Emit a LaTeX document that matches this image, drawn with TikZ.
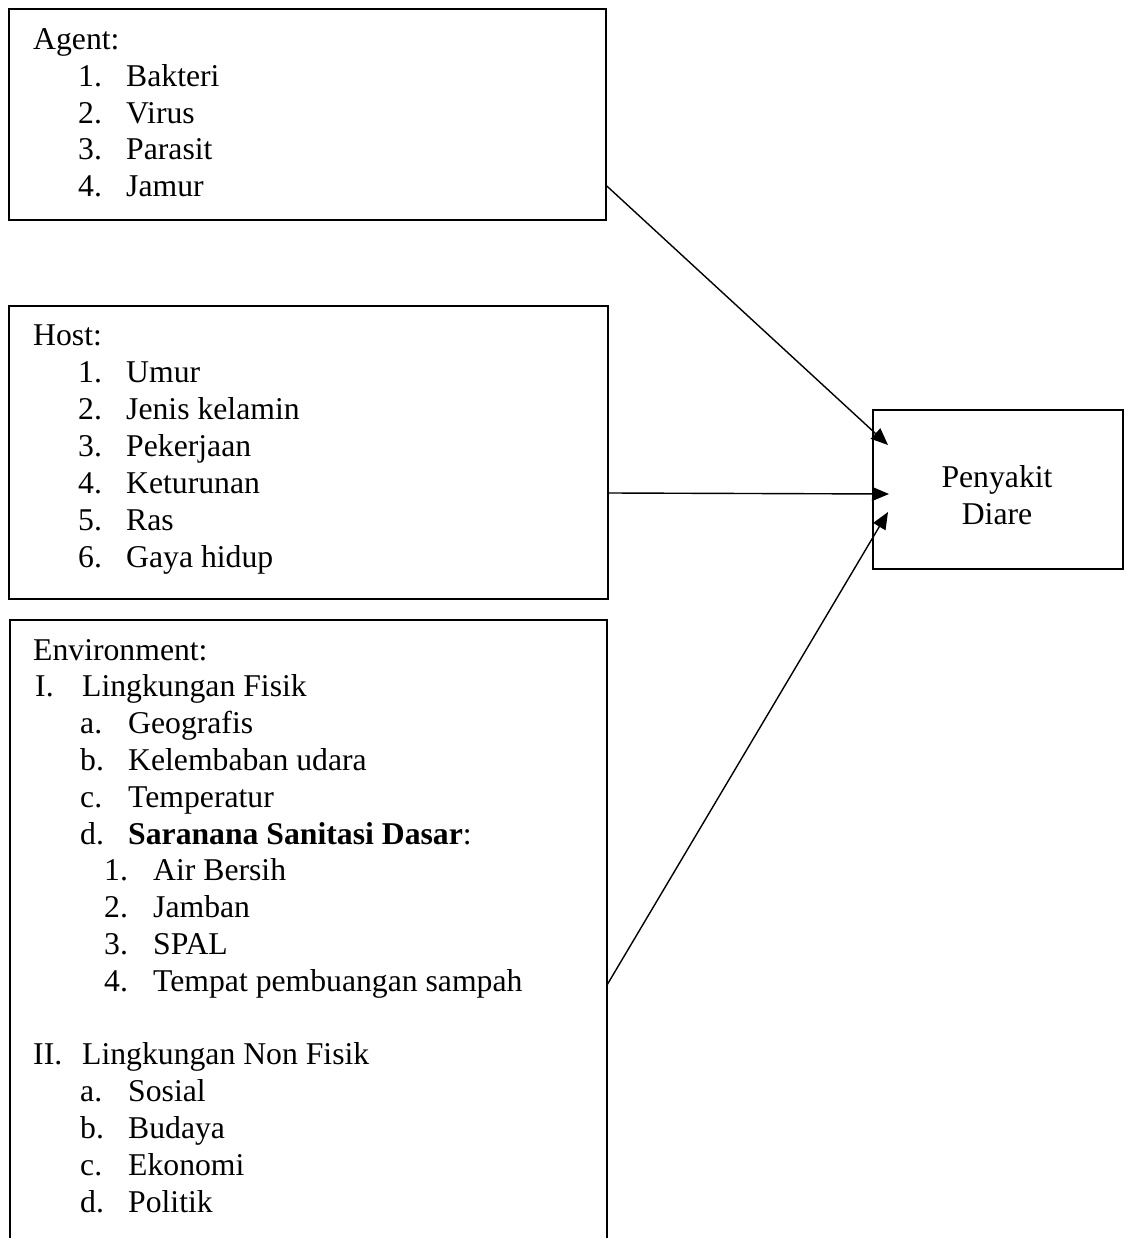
\documentclass[tikz,border=0pt]{standalone}
\usepackage{fontspec}
\setmainfont{Liberation Serif}
\usetikzlibrary{arrows.meta,calc}
\begin{document}
\begin{tikzpicture}[x=1pt,y=-1pt,
  box/.style={draw,line width=1.8pt,inner sep=0pt,anchor=north west},
  txt/.style={inner sep=0pt,anchor=base west,font=\fontsize{31.7}{37}\selectfont},
  conn/.style={line width=1.4pt,-{Triangle[length=17pt,width=14pt]}}]
\useasboundingbox (0,0) rectangle (1125,1238);
\clip (0,0) rectangle (1125,1238);
% boxes
\node[box,minimum width=597pt,minimum height=211pt] (agent) at (8,8) {};
\node[box,minimum width=599pt,minimum height=293pt] (host) at (8,305) {};
\draw[line width=1.8pt] (10,1260) -- (10,620) -- (607,620) -- (607,1260);
\coordinate (envE) at (607,985);
\node[box,minimum width=250pt,minimum height=159pt] (dis) at (872,409) {};
\node[inner sep=0pt,anchor=base,align=center,font=\fontsize{31.7}{37}\selectfont] (distext) at (997,524) {Penyakit\\Diare};
% agent
\node[txt] (ag) at (33,50) {Agent:};
\foreach \t [count=\i] in {Bakteri,Virus,Parasit,Jamur}{
  \node[txt] (agn\i) at (78,50+36.6*\i) {\i.};
  \node[txt] (agt\i) at (126,50+36.6*\i) {\t};
}
% host
\node[txt] (ho) at (33,345) {Host:};
\foreach \t [count=\i] in {Umur,Jenis kelamin,Pekerjaan,Keturunan,Ras,Gaya hidup}{
  \node[txt] (hon\i) at (78,345+37*\i) {\i.};
  \node[txt] (hot\i) at (126,345+37*\i) {\t};
}
% environment
\node[txt] (en) at (33,660) {Environment:};
\node[txt] (enI) at (35,696.8) {I.};
\node[txt] (enIt) at (82,696.8) {Lingkungan Fisik};
\foreach \l/\t [count=\i] in {a/Geografis,b/Kelembaban udara,c/Temperatur}{
  \node[txt] (ena\i) at (80,696.8+36.8*\i) {\l.};
  \node[txt] (ent\i) at (128,696.8+36.8*\i) {\t};
}
\node[txt] (end) at (80,844) {d.};
\node[txt] (endt) at (128,844) {\textbf{Saranana Sanitasi Dasar}:};
\foreach \t [count=\i] in {Air Bersih,Jamban,SPAL,Tempat pembuangan sampah}{
  \node[txt] (ens\i) at (104,844+36.8*\i) {\i.};
  \node[txt] (enst\i) at (153,844+36.8*\i) {\t};
}
\node[txt] (enII) at (33,1064.8) {II.};
\node[txt] (enIIt) at (82,1064.8) {Lingkungan Non Fisik};
\foreach \l/\t [count=\i] in {a/Sosial,b/Budaya,c/Ekonomi,d/Politik}{
  \node[txt] (enb\i) at (80,1064.8+36.8*\i) {\l.};
  \node[txt] (enbt\i) at (128,1064.8+36.8*\i) {\t};
}
% connectors
\coordinate (agE) at (agent.east |- 0,186);
\coordinate (hoE) at (host.east |- 0,493);
\coordinate (d1) at ($(dis.north west)+(16,36)$);
\coordinate (d2) at ($(dis.north west)+(17,85)$);
\coordinate (d3) at ($(dis.north west)+(16,103)$);
\draw[conn] (agE) -- (d1);
\draw[conn] (hoE) -- (d2);
\draw[conn] (envE) -- (d3);
\end{tikzpicture}
\end{document}
